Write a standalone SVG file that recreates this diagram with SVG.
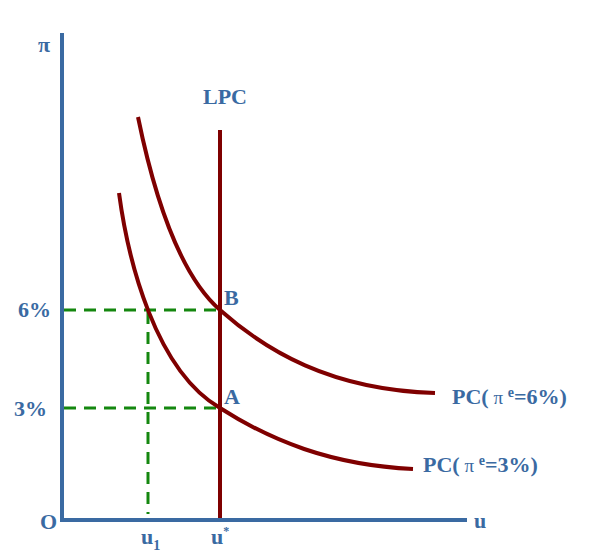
<svg xmlns="http://www.w3.org/2000/svg" width="599" height="554" viewBox="0 0 599 554">
<style>
.t{font-family:"Liberation Serif","Times New Roman",serif;font-weight:bold;font-size:22px;fill:#3a6aa2}
.ax{stroke:#3a6aa2;stroke-width:4;fill:none}
.dash{stroke:#14870f;stroke-width:3;stroke-dasharray:12,8;fill:none}
.red{stroke:#7f0000;stroke-width:4;fill:none;stroke-linecap:butt}
</style>
<rect width="599" height="554" fill="#fff"/>
<g id="connectors">
<path class="dash" d="M64,310 H218"/>
<path class="dash" d="M64,408 H218"/>
<path class="dash" d="M148,312 V514"/>
</g>
<g id="axes">
<path class="ax" d="M62,33 V520 H467"/>
</g>
<g id="LPC">
<path class="red" d="M220,130 V518"/>
<text class="t" x="203" y="104">LPC</text>
</g>
<g id="PC6">
<path class="red" d="M138,117 C155,200 180,275 220,310 C265,350 330,390 435,393"/>
<text class="t" x="452" y="404" font-size="23">PC(<tspan font-weight="normal" font-size="19"> π </tspan><tspan font-size="14" dy="-7">e</tspan><tspan dy="7">=6%)</tspan></text>
</g>
<g id="PC3">
<path class="red" d="M119,193 C128,260 155,370 220,408 C270,440 330,465 413,469"/>
<text class="t" x="423" y="472" font-size="23">PC(<tspan font-weight="normal" font-size="19"> π </tspan><tspan font-size="14" dy="-7">e</tspan><tspan dy="7">=3%)</tspan></text>
</g>
<g id="labels">
<text class="t" x="38" y="52" font-size="16" font-weight="normal">π</text>
<text class="t" x="18" y="317" font-size="23">6%</text>
<text class="t" x="14" y="416" font-size="23">3%</text>
<text class="t" x="224" y="305">B</text>
<text class="t" x="224" y="404">A</text>
<text class="t" x="40" y="529">O</text>
<text class="t" x="474" y="528">u</text>
<text class="t" x="141" y="544">u<tspan font-size="14" dy="6">1</tspan></text>
<text class="t" x="211" y="544">u<tspan font-size="12" dy="-9">*</tspan></text>
</g>
</svg>
